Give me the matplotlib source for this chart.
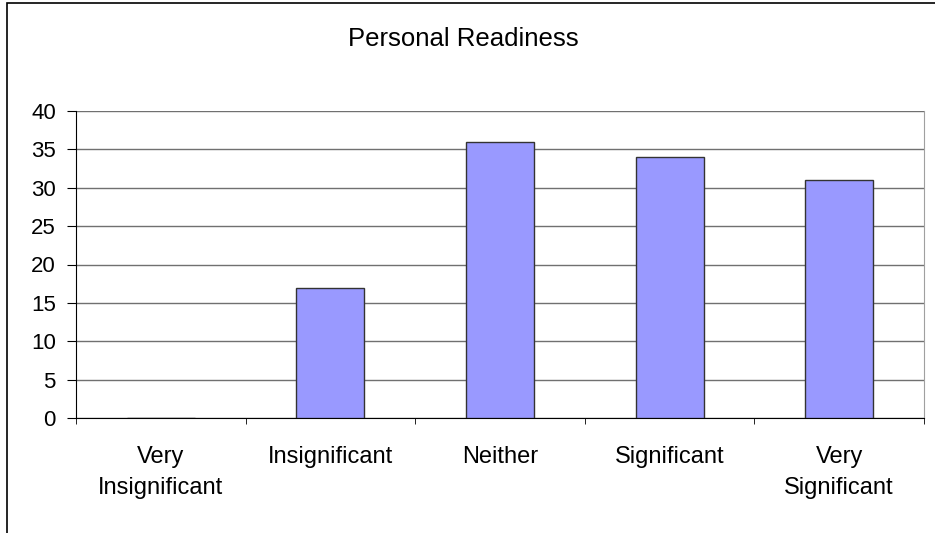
import matplotlib
matplotlib.use("Agg")
import matplotlib.pyplot as plt
from matplotlib.patches import Rectangle
import numpy as np

plt.rcParams['font.family'] = ['Liberation Sans', 'DejaVu Sans']

categories = ["Very\nInsignificant", "Insignificant", "Neither", "Significant", "Very\nSignificant"]
values = [0, 17, 36, 34, 31]
yticks = [0, 5, 10, 15, 20, 25, 30, 35, 40]
title = "Personal Readiness"

W, H = 935, 533
fig = plt.figure(figsize=(W / 100, H / 100), dpi=100)

# outer chart border (left and top visible only)
fig.patches.append(Rectangle((7 / W, -0.1), 1.2, (H - 3) / H + 0.1, transform=fig.transFigure,
                             fill=False, edgecolor='black', linewidth=1.2))

ax = fig.add_axes([76 / W, (H - 418) / H, (924 - 76) / W, (418 - 111) / H])
x = np.arange(len(categories))
ax.bar(x, values, width=0.4, color='#9999FF', edgecolor='#333333', linewidth=1.0, zorder=3)

ax.set_xlim(-0.5, len(categories) - 0.5)
ax.set_ylim(0, 40)
ax.set_yticks(yticks)
ax.set_yticklabels([str(v) for v in yticks], fontsize=16)
ax.yaxis.grid(True, color='#707070', linewidth=1.0, zorder=0)
ax.set_axisbelow(True)

ax.set_xticks(x)
ax.set_xticklabels(categories, fontsize=17, linespacing=1.5)
ax.set_xticks(np.arange(-0.5, len(categories), 1.0), minor=True)
ax.tick_params(axis='x', which='major', length=0, pad=20.5)
ax.tick_params(axis='x', which='minor', length=4.5, direction='out', color='black')
ax.tick_params(axis='y', length=6.5, direction='out', color='black', pad=8)

ax.spines['top'].set_visible(False)
ax.spines['right'].set_color('#A0A0A0')
ax.spines['left'].set_color('black')
ax.spines['bottom'].set_color('black')

fig.text(463.5 / W, 1 - 45.7 / H, title, ha='center', va='baseline', fontsize=18.5)

fig.savefig('out.png', dpi=100)
